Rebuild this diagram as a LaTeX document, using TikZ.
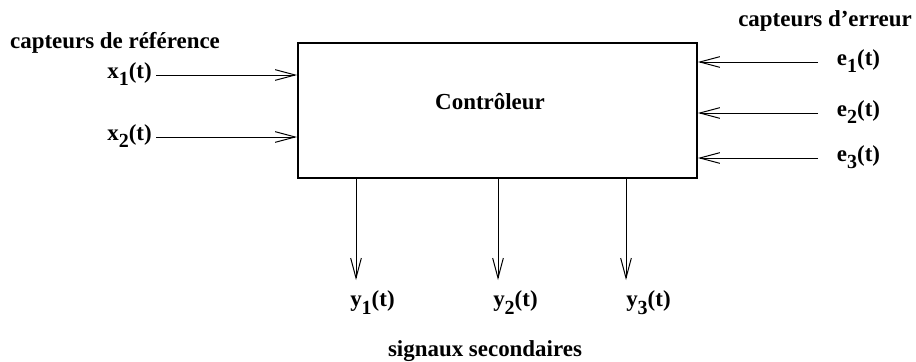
\documentclass[tikz,border=0pt]{standalone}
\usepackage{fontspec}
\setmainfont{Liberation Serif}
\usetikzlibrary{arrows.meta}
\newcommand{\idx}[1]{\raisebox{-0.75ex}{\fontsize{15}{15}\selectfont #1}}

\begin{document}
\begin{tikzpicture}[
    x=0.75pt, y=-0.75pt,
    every node/.style={font=\fontsize{17.2}{20}\selectfont\bfseries},
    sig/.style={
        draw=black,
        line width=0.75pt,
        -{Straight Barb[length=15pt,width=8pt,line width=0.75pt]}
    },
    block/.style={
        draw=black,
        line width=1.6pt,
        minimum width=299pt,
        minimum height=101pt,
        inner sep=0pt
    }
]
\useasboundingbox (0,0) rectangle (916,361);

% Controller block
\node[block] (ctrl) at (497.5,110.5) {};
\node (ctrllabel) at (490,102) {Contrôleur};

% Reference sensors
\node (refhead) at (115,43) {capteurs de référence};
\foreach \i/\yy in {1/75,2/137}{
    \node[anchor=mid east, inner xsep=3pt] (x\i) at (156,\yy) {x\idx{\i}(t)};
    \draw[sig] (x\i.mid east) -- (x\i.mid east -| ctrl.west);
}

% Error sensors
\node (errhead) at (825,21) {capteurs d’erreur};
\foreach \i/\yy in {1/62,2/113,3/158}{
    \node[anchor=mid west, inner xsep=14pt] (e\i) at (818,\yy) {e\idx{\i}(t)};
    \draw[sig] (e\i.mid west) -- (e\i.mid west -| ctrl.east);
}

% Secondary signals
\foreach \i/\xx/\lx in {1/356/350,2/498/493,3/626/626}{
    \coordinate (tip\i) at (\xx,280);
    \node[anchor=north west, inner sep=0pt] (y\i) at (\lx,290) {y\idx{\i}(t)};
    \draw[sig] (tip\i |- ctrl.south) -- (tip\i);
}
\node (sechead) at (485,351) {signaux secondaires};
\end{tikzpicture}
\end{document}
